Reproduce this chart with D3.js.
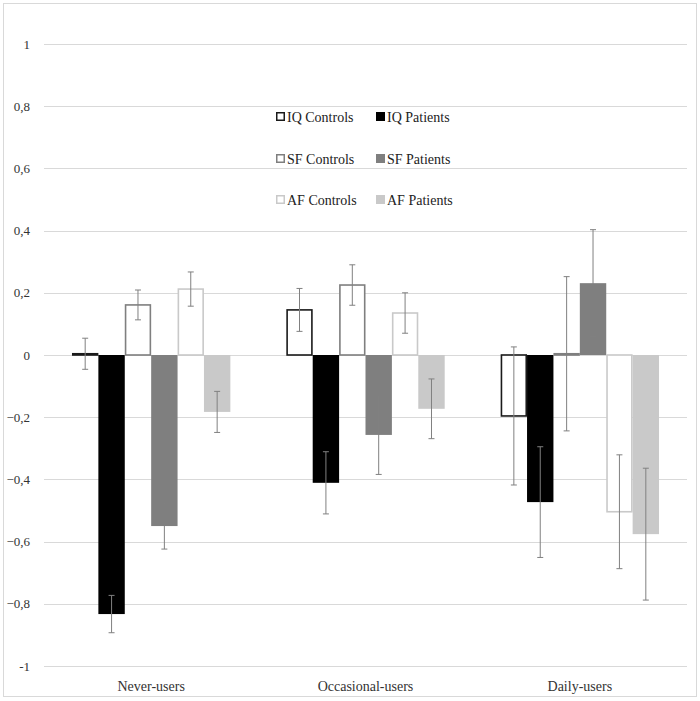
<!DOCTYPE html>
<html><head><meta charset="utf-8">
<script src="https://cdn.jsdelivr.net/npm/d3@7"></script>
<style>body{margin:0;background:#fff}svg{display:block}</style>
</head><body><svg id="c" width="700" height="701"></svg>
<script>
const categories = ["Never-users","Occasional-users","Daily-users"];
const seriesNames = ["IQ Controls","IQ Patients","SF Controls","SF Patients","AF Controls","AF Patients"];
const iqControls = [0.004, 0.145, -0.196];
const iqPatients = [-0.833, -0.411, -0.473];
const sfControls = [0.161, 0.225, 0.004];
const sfPatients = [-0.55, -0.257, 0.231];
const afControls = [0.212, 0.135, -0.504];
const afPatients = [-0.183, -0.173, -0.576];
const iqControlsErr = [0.05, 0.069, 0.222];
const iqPatientsErr = [0.06, 0.1, 0.178];
const sfControlsErr = [0.048, 0.065, 0.248];
const sfPatientsErr = [0.074, 0.127, 0.172];
const afControlsErr = [0.055, 0.065, 0.183];
const afPatientsErr = [0.066, 0.096, 0.212];
const yTicks = [1,0.8,0.6,0.4,0.2,0,-0.2,-0.4,-0.6,-0.8,-1];

const values = [iqControls, iqPatients, sfControls, sfPatients, afControls, afPatients];
const errs = [iqControlsErr, iqPatientsErr, sfControlsErr, sfPatientsErr, afControlsErr, afPatientsErr];
const styles = [
  {fill:"#ffffff", stroke:"#1a1a1a"},
  {fill:"#000000", stroke:"#000000"},
  {fill:"#ffffff", stroke:"#7f7f7f"},
  {fill:"#7f7f7f", stroke:"#7f7f7f"},
  {fill:"#ffffff", stroke:"#c9c9c9"},
  {fill:"#c9c9c9", stroke:"#c9c9c9"}
];
const FONT = "'Liberation Serif', 'DejaVu Serif', 'Times New Roman', serif";

const svg = d3.select("#c").attr("font-family", FONT);
svg.append("rect").attr("x",3.5).attr("y",3.5).attr("width",693).attr("height",693)
  .attr("fill","none").attr("stroke","#d9d9d9");

const left = 44, right = 687;
const y = d3.scaleLinear().domain([-1,1]).range([666,44]);
const x0 = d3.scaleBand().domain(categories).range([left,right]).paddingInner(0).paddingOuter(0);
const x1 = d3.scaleBand().domain(seriesNames).range([0,x0.bandwidth()]).paddingInner(0).paddingOuter(1.06);

// grid
svg.append("g").selectAll("line").data(yTicks).join("line")
  .attr("x1",left).attr("x2",right).attr("y1",d=>Math.round(y(d))+0.5).attr("y2",d=>Math.round(y(d))+0.5)
  .attr("stroke","#d9d9d9").attr("stroke-width",1);

// y labels
const fmt = d => d===0 ? "0" : (d===1||d===-1) ? String(d) : d3.format(".1f")(d).replace(".",",");
svg.append("g").selectAll("text").data(yTicks).join("text")
  .attr("font-family",FONT).attr("fill","#333")
  .attr("x",30).attr("y",d=>y(d)).attr("dy","0.35em").attr("text-anchor","end")
  .attr("font-size",13).text(fmt);

// x labels
svg.append("g").selectAll("text").data(categories).join("text")
  .attr("font-family",FONT).attr("fill","#333")
  .attr("x",d=>x0(d)+x0.bandwidth()/2).attr("y",686).attr("dy","0.35em").attr("text-anchor","middle")
  .attr("font-size",14).text(d=>d);

// bars
const data = [];
categories.forEach((c,ci)=>seriesNames.forEach((s,si)=>data.push({c,s,si,v:values[si][ci],e:errs[si][ci]})));
const sw = 1.6;
const hollow = d => styles[d.si].fill==="#ffffff";
svg.append("g").selectAll("rect").data(data).join("rect")
  .attr("x",d=>x0(d.c)+x1(d.s)+(hollow(d)?sw/2:0))
  .attr("width",d=>x1.bandwidth()-(hollow(d)?sw:0))
  .attr("y",d=>Math.min(y(d.v),y(0)))
  .attr("height",d=>Math.max(Math.abs(y(d.v)-y(0)),0.5))
  .attr("fill",d=>styles[d.si].fill)
  .attr("stroke",d=>hollow(d)?styles[d.si].stroke:"none")
  .attr("stroke-width",sw);

// error bars
const eg = svg.append("g").attr("stroke","#808080").attr("stroke-width",1);
data.forEach(d=>{
  const cx = x0(d.c)+x1(d.s)+x1.bandwidth()/2;
  const yt = y(d.v+d.e), yb = y(d.v-d.e);
  eg.append("line").attr("x1",cx).attr("x2",cx).attr("y1",yt).attr("y2",yb);
  eg.append("line").attr("x1",cx-3).attr("x2",cx+3).attr("y1",yt).attr("y2",yt);
  eg.append("line").attr("x1",cx-3).attr("x2",cx+3).attr("y1",yb).attr("y2",yb);
});

// legend
const legX = [276, 376], legY = [117, 159, 200];
seriesNames.forEach((s,i)=>{
  const col = i%2, row = Math.floor(i/2);
  const g = svg.append("g").attr("transform",`translate(${legX[col]},${legY[row]})`);
  const st = styles[i];
  if (st.fill==="#ffffff") {
    g.append("rect").attr("x",0.75).attr("y",-4.25).attr("width",7.5).attr("height",7.5)
      .attr("fill","#fff").attr("stroke",st.stroke).attr("stroke-width",1.5);
  } else {
    g.append("rect").attr("x",0).attr("y",-5).attr("width",9).attr("height",9).attr("fill",st.fill);
  }
  g.append("text").attr("font-family",FONT).attr("fill","#222")
    .attr("x",11).attr("y",0).attr("dy","0.35em").attr("font-size",14).text(s);
});
</script></body></html>
